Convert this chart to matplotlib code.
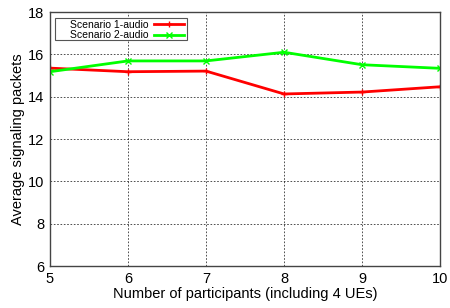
import matplotlib
matplotlib.use("Agg")
import matplotlib.pyplot as plt
from matplotlib.patches import Rectangle

# Data
participants = [5, 6, 7, 8, 9, 10]
scenario1_audio = [15.35, 15.18, 15.21, 14.13, 14.22, 14.47]
scenario2_audio = [15.18, 15.69, 15.69, 16.10, 15.51, 15.34]

plt.rcParams['font.family'] = ['Liberation Sans', 'DejaVu Sans']

fig = plt.figure(figsize=(4.5, 3.08), dpi=100)
ax = fig.add_axes([0.111, 0.136, 0.867, 0.825])

ax.plot(participants, scenario1_audio, color='#ff0000', lw=2, marker='+', ms=5,
        mew=1, label='Scenario 1-audio')
ax.plot(participants, scenario2_audio, color='#00ff00', lw=2, marker='x', ms=4,
        mew=1, label='Scenario 2-audio')

ax.set_xlim(5, 10)
ax.set_ylim(6, 18)
ax.set_xticks(participants)
ax.set_yticks([6, 8, 10, 12, 14, 16, 18])
ax.grid(True, color='black', linestyle=(0, (2, 2)), linewidth=0.6, alpha=0.8)
ax.tick_params(direction='in', length=0, labelsize=10.5, pad=4)
for s in ax.spines.values():
    s.set_color('#444444')
    s.set_linewidth(1)

ax.set_xlabel('Number of participants (including 4 UEs)', fontsize=10.5, labelpad=1)
ax.set_ylabel('Average signaling packets', fontsize=10.5, labelpad=2)

# legend box in gnuplot style: text on the left, sample on the right
box = Rectangle((0.013, 0.890), 0.338, 0.086, transform=ax.transAxes,
                facecolor='white', edgecolor='#555555', lw=0.8, zorder=4)
ax.add_patch(box)
leg = ax.legend(loc='upper right', bbox_to_anchor=(0.349, 0.978), markerfirst=False,
                fontsize=7.5, frameon=False, handlelength=2.9, handletextpad=0.5,
                borderaxespad=0, borderpad=0.2, labelspacing=0.05)
leg.set_zorder(5)

fig.savefig('out.png', dpi=100)
